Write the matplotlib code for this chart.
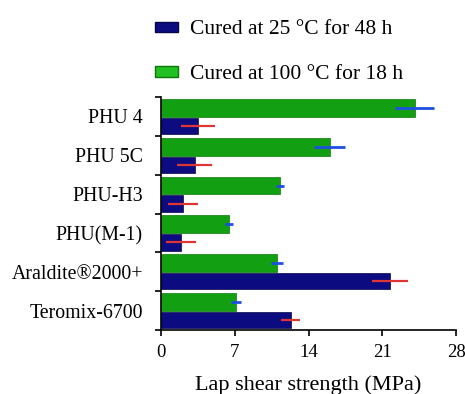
import matplotlib
matplotlib.use("Agg")
import matplotlib.pyplot as plt
import numpy as np
from matplotlib.patches import Patch

categories = ["PHU 4", "PHU 5C", "PHU-H3", "PHU(M-1)", "Araldite®2000+", "Teromix-6700"]
cured_25 = [3.5, 3.2, 2.1, 1.9, 21.7, 12.3]
cured_25_err = [1.6, 1.65, 1.4, 1.45, 1.7, 0.9]
cured_100 = [24.1, 16.0, 11.3, 6.45, 11.0, 7.1]
cured_100_err = [1.85, 1.5, 0.4, 0.35, 0.6, 0.45]
xticks = [0, 7, 14, 21, 28]
labels = ["Cured at 25 °C for 48 h", "Cured at 100 °C for 18 h"]

plt.rcParams['font.family'] = ['Liberation Serif', 'DejaVu Serif']

fig = plt.figure(figsize=(4.65, 3.94), dpi=100)
ax = fig.add_axes([161/465, 1-330/394, (456-161)/465, (330-97)/394])

y = np.arange(len(categories))
navy = '#0c0c80'
green = '#12a012'
ax.barh(y - 0.22, cured_100, height=0.46, color=green, edgecolor='#0a7a0a', linewidth=0.5,
        xerr=cured_100_err, error_kw=dict(ecolor='#1f4fe0', elinewidth=2, capsize=0))
ax.barh(y + 0.245, cured_25, height=0.42, color=navy, edgecolor='#06064a', linewidth=0.5,
        xerr=cured_25_err, error_kw=dict(ecolor='#e03535', elinewidth=1.6, capsize=0))

ax.set_ylim(len(categories) - 0.5, -0.5)
ax.set_xlim(0, 28)
ax.set_xticks(xticks)
ax.set_xticklabels([str(t) for t in xticks], fontsize=13.5)
ax.set_yticks(np.arange(len(categories) + 1) - 0.5)
ax.set_yticklabels([])
ax.set_yticks(y, minor=True)
ax.set_yticklabels(categories, minor=True, fontsize=14.3)
ax.tick_params(axis='y', which='minor', length=0, pad=13)
ax.tick_params(axis='y', which='major', length=4, width=1.2, direction='out')
ax.tick_params(axis='x', length=4, width=1.2, direction='out', pad=6)
for s in ['top', 'right']:
    ax.spines[s].set_visible(False)
for s in ['left', 'bottom']:
    ax.spines[s].set_linewidth(1.2)
ax.set_xlabel("Lap shear strength (MPa)", fontsize=16, labelpad=10)

handles = [Patch(facecolor=navy, edgecolor='#06064a'), Patch(facecolor='#22c022', edgecolor='#0a7a0a')]
fig.legend(handles, labels, loc='upper left', bbox_to_anchor=(136/465, 1-1/394),
           frameon=False, fontsize=15.5, handlelength=1.07, handleheight=0.35,
           labelspacing=1.2, handletextpad=0.56)

fig.savefig("out.png", dpi=100)
